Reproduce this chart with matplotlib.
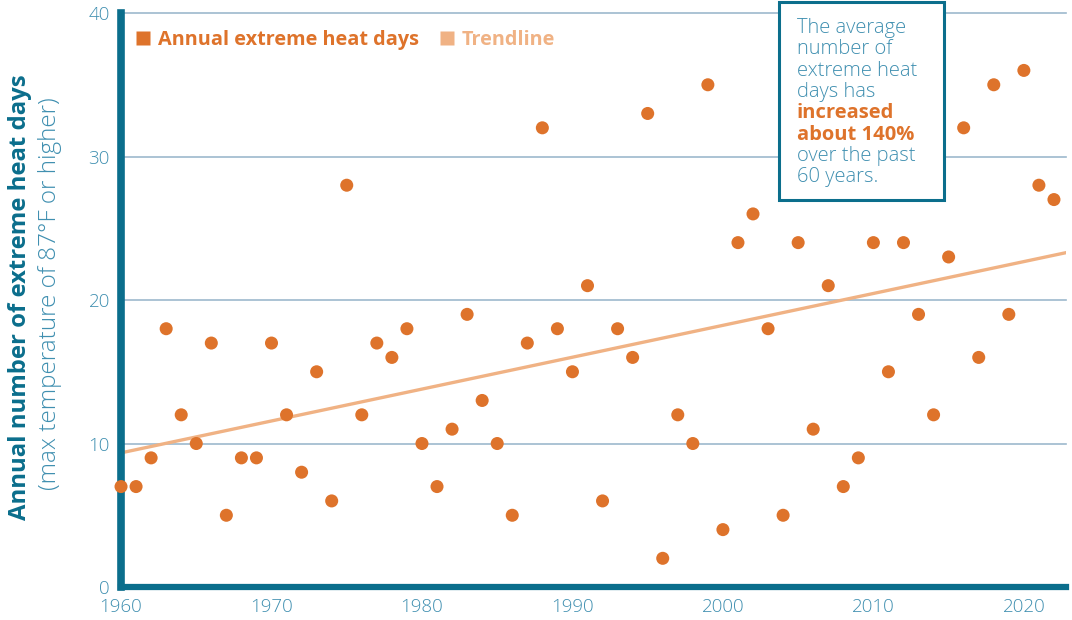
import matplotlib
matplotlib.use("Agg")
import matplotlib.pyplot as plt
from matplotlib.lines import Line2D
from matplotlib.patches import Rectangle

# data
years = list(range(1960, 2023))
heat_days = [
    7, 7, 9, 18, 12, 10, 17, 5, 9, 9,          # 1960s
    17, 12, 8, 15, 6, 28, 12, 17, 16, 18,      # 1970s
    10, 7, 11, 19, 13, 10, 5, 17, 32, 18,      # 1980s
    15, 21, 6, 18, 16, 33, 2, 12, 10, 35,      # 1990s
    4, 24, 26, 18, 5, 24, 11, 21, 7, 9,        # 2000s
    24, 15, 24, 19, 12, 23, 32, 16, 35, 19,    # 2010s
    36, 28, 27,                                # 2020s
]
trend_years = [1960, 2022.8]
trend_values = [9.35, 23.3]
x_ticks = [1960, 1970, 1980, 1990, 2000, 2010, 2020]
y_ticks = [0, 10, 20, 30, 40]

ORANGE = "#de732b"
TREND = "#f0b284"
TEAL = "#0b6e8c"
TICK = "#3f8fb0"
GRID = "#9db9cd"

plt.rcParams["font.family"] = ["Open Sans", "DejaVu Sans"]

fig = plt.figure(figsize=(10.72, 6.2), dpi=100)
ax = fig.add_axes([0.1129, 0.0532, 0.8815, 0.9258])

for yv in y_ticks[1:]:
    ax.axhline(yv, color=GRID, linewidth=1.2, zorder=1, clip_on=False)

ax.plot(trend_years, trend_values, color=TREND, linewidth=2.4, zorder=2)
ax.scatter(years, heat_days, s=88, color=ORANGE, edgecolor="none",
           zorder=5, clip_on=False)

ax.set_xlim(1960, 2022.8)
ax.set_ylim(0, 40)
ax.set_xticks(x_ticks)
ax.set_yticks(y_ticks)
ax.tick_params(length=0, colors=TICK, labelsize=13.5)
ax.tick_params(axis="y", pad=8)
ax.tick_params(axis="x", pad=8)
for lab in ax.get_xticklabels() + ax.get_yticklabels():
    lab.set_fontweight("light")

for s in ["top", "right"]:
    ax.spines[s].set_visible(False)
ax.spines["left"].set_color(TEAL)
ax.spines["left"].set_linewidth(5.5)
ax.spines["bottom"].set_color(TEAL)
ax.spines["bottom"].set_linewidth(4.5)
ax.spines["left"].set_zorder(3)
ax.spines["bottom"].set_zorder(3)

# legend
handles = [
    Line2D([], [], marker="s", linestyle="none", markersize=10,
           markerfacecolor=ORANGE, markeredgecolor="none"),
    Line2D([], [], marker="s", linestyle="none", markersize=10,
           markerfacecolor=TREND, markeredgecolor="none"),
]
leg = ax.legend(handles, ["Annual extreme heat days", "Trendline"],
                loc="upper left", bbox_to_anchor=(-0.005, 1.0), ncol=2,
                frameon=False, handletextpad=0.25, columnspacing=0.9,
                handlelength=1.0, borderaxespad=0.45,
                prop={"size": 14.3, "weight": "bold"})
for txt, c in zip(leg.get_texts(), [ORANGE, TREND]):
    txt.set_color(c)

# y axis label, two lines
fig.text(0.019, 0.521, "Annual number of extreme heat days", rotation=90,
         ha="center", va="center", color=TEAL, fontsize=17.2,
         fontweight="bold")
fig.text(0.0465, 0.527, "(max temperature of 87°F or higher)", rotation=90,
         ha="center", va="center", color=TICK, fontsize=17.5,
         fontweight="light")

# callout box
W, H = 1072, 620
fig.patches.append(Rectangle((779 / W, 1 - 200 / H), 165 / W, 198 / H,
                             transform=fig.transFigure, facecolor="white",
                             edgecolor=TEAL, linewidth=2.2, zorder=10))
lines = [
    ("The average", False), ("number of", False), ("extreme heat", False),
    ("days has", False), ("increased", True), ("about 140%", True),
    ("over the past", False), ("60 years.", False),
]
for i, (t, bold) in enumerate(lines):
    fig.text(797 / W, 1 - (28 + i * 21.3) / H, t, ha="left", va="center",
             fontsize=14.5, color=ORANGE if bold else TICK,
             fontweight="bold" if bold else "light", zorder=11)

fig.savefig("out.png", dpi=100)
